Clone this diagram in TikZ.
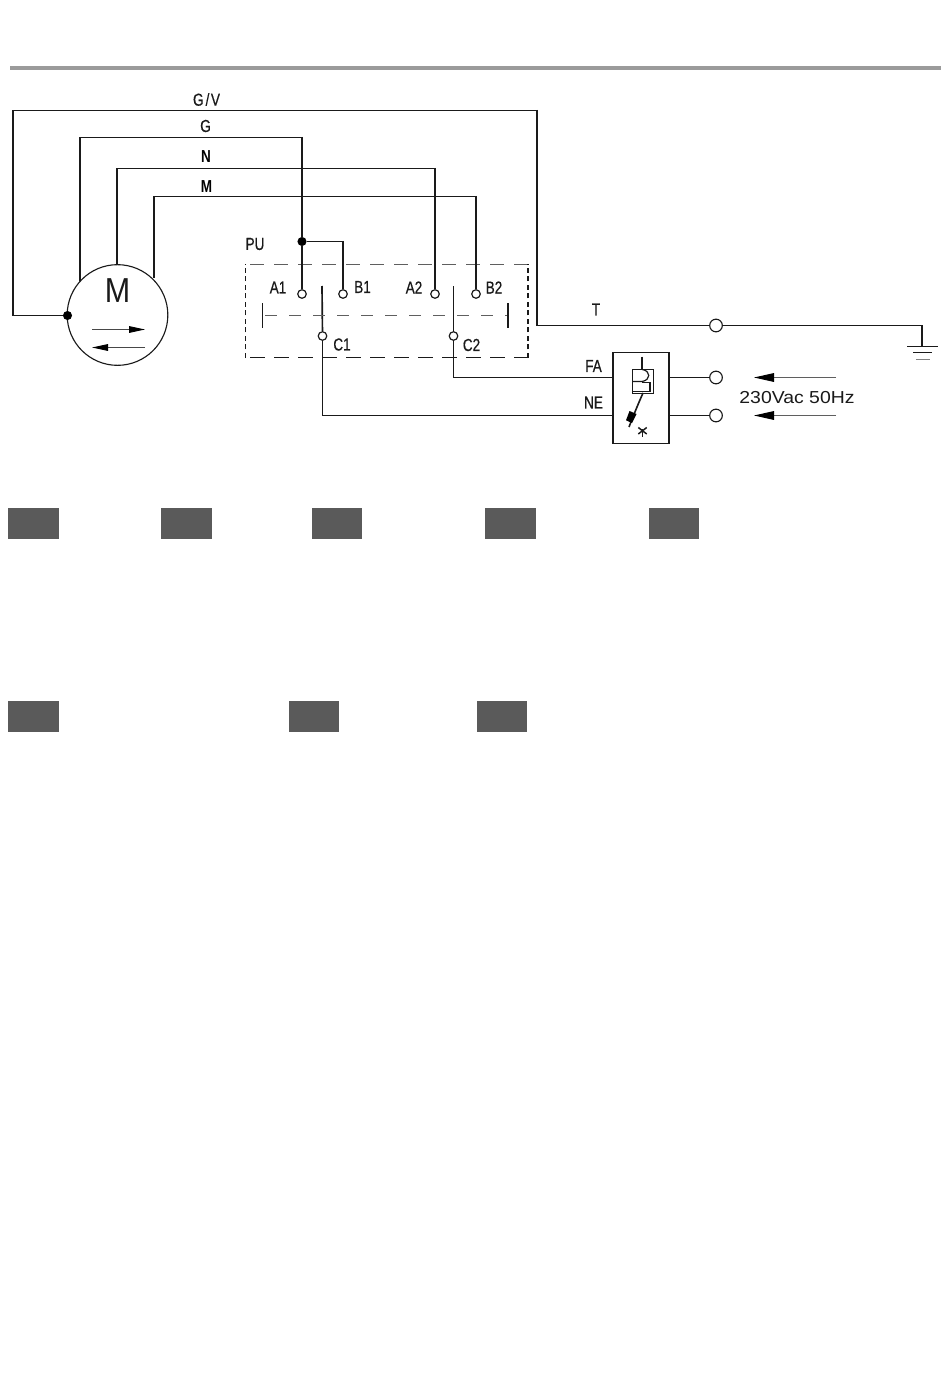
\documentclass[tikz,border=0pt]{standalone}
\usepackage{fontspec}
\setmainfont{Liberation Sans}
\newfontfamily\semif[FakeBold=0.6]{Liberation Sans}
\usetikzlibrary{arrows.meta}
\definecolor{bar}{HTML}{9B9B9B}
\definecolor{tab}{HTML}{5A5A5A}
\definecolor{ink}{HTML}{1A1A1A}
\tikzset{
 wire/.style={draw=ink,line width=0.85pt},
 vwire/.style={draw=ink,line width=1.25pt},
 dashside/.style={draw=ink,line width=1.3pt,dash pattern=on 3.8pt off 2.6pt},
 dashtop/.style={draw=ink!70,line width=1.1pt,dash pattern=on 10.5pt off 7.5pt},
 dashmid/.style={draw=ink!70,line width=1.1pt,dash pattern=on 9pt off 9pt},
 dashbot/.style={draw=ink,line width=0.95pt,dash pattern=on 11pt off 7pt},
 term/.style={circle,draw=ink,fill=white,line width=0.9pt,minimum size=6.4pt,inner sep=0pt},
 bigterm/.style={circle,draw=ink,fill=white,line width=0.85pt,minimum size=9.5pt,inner sep=0pt},
 dot/.style={circle,fill=black,minimum size=6.8pt,inner sep=0pt},
 lab/.style={inner sep=0pt,font=\semif\fontsize{13}{14}\selectfont,text=ink,xscale=0.78},
 blab/.style={inner sep=0pt,font=\bfseries\fontsize{13}{14}\selectfont,text=black,xscale=0.78},
 tabbox/.style={fill=tab,draw=none,minimum height=23.2pt,inner sep=0pt,anchor=north west},
 larrow/.style={draw=ink!80,line width=0.7pt,-{Triangle[length=12pt,width=5pt,fill=black,color=black]}},
 sarrow/.style={draw=ink!70,line width=0.75pt,-{Triangle[length=15pt,width=6.5pt,fill=black,color=black]}},
}
\begin{document}
\begin{tikzpicture}[x=0.75pt,y=-0.75pt]
\useasboundingbox (0,0) rectangle (950,1398);
\fill[white] (0,0) rectangle (950,1398);
\fill[bar] (10,66) rectangle (941,70);
% motor
\node[circle,draw=ink,line width=0.85pt,minimum size=75.5pt,inner sep=0pt] (motor) at (117.5,315) {};
\node[inner sep=0,font=\fontsize{26}{27}\selectfont,text=ink,xscale=0.88] (mlab) at (117.5,291) {M};
\coordinate (mr1) at (92,329.5); \coordinate (mr2) at (145,329.5);
\coordinate (ml1) at (145,347.5); \coordinate (ml2) at (92,347.5);
\draw[larrow] (mr1) -- (mr2);
\draw[larrow] (ml1) -- (ml2);
\node[dot] (pe) at (67.5,315.5) {};
\coordinate (g1) at (80,281); \coordinate (n1) at (117,265); \coordinate (m1) at (154,278);
% terminals
\node[term] (a1) at (302,294) {};
\node[term] (b1) at (343,294) {};
\node[term] (a2) at (435,294) {};
\node[term] (b2) at (476,294) {};
\node[term] (c1) at (322.5,336) {};
\node[term] (c2) at (453.5,336) {};
\node[dot] (j) at (302,241.5) {};
% PU box
\draw[dashtop] (250,264.5) -- (528,264.5);
\draw[dashbot] (250,357.5) -- (528,357.5);
\draw[dashside] (245.5,358) -- (245.5,264);
\draw[dashside] (528,358) -- (528,264);
% wires
\draw[wire] (13,110.5) -- (537,110.5);
\draw[vwire] (13,315.5) -- (13,110);
\draw[vwire] (537,110) -- (537,325.5);
\draw[wire] (pe) -- (13,315.5);
\draw[vwire] (g1) -- (80,137.5);
\draw[wire] (80,137.5) -- (302,137.5);
\draw[vwire] (302,137) -- (j);
\draw[vwire,line width=1.5pt] (j) -- (a1);
\draw[wire] (j) -- (343,241.5);
\draw[vwire] (343,241) -- (b1);
\draw[vwire] (n1) -- (117,168.5);
\draw[wire] (117,168.5) -- (435,168.5);
\draw[vwire] (435,168) -- (a2);
\draw[vwire] (m1) -- (154,196.5);
\draw[wire] (154,196.5) -- (476,196.5);
\draw[vwire] (476,196) -- (b2);
% switch bars
\coordinate (s1t) at (322,286); \coordinate (s2t) at (453.5,286);
\draw[vwire] (s1t) -- (c1);
\draw[vwire] (s2t) -- (c2);
\draw[vwire,line width=1.4pt] (262.5,303) -- (262.5,328);
\draw[vwire,line width=1.4pt] (508,303) -- (508,328);
\draw[dashmid] (265,315.5) -- (507,315.5);
% breaker
\node[draw=ink,line width=1.1pt,minimum width=42pt,minimum height=68pt,inner sep=0pt,anchor=north west] (brk) at (612.3,352) {};
\coordinate (fa) at (612.3,377.5); \coordinate (ne) at (612.3,415.5);
\coordinate (fo) at (668.3,377.5); \coordinate (no) at (668.3,415.5);
\draw[vwire] (c2) -- (453.5,377.5);
\draw[wire] (453,377.5) -- (fa);
\draw[vwire] (c1) -- (322.5,415.5);
\draw[wire] (322,415.5) -- (ne);
\node[bigterm] (t1) at (716,377.5) {};
\node[bigterm] (t2) at (716,415.5) {};
\draw[wire] (fo) -- (t1);
\draw[wire] (no) -- (t2);
% breaker internals
\draw[vwire,line width=1.4pt] (642.3,356.5) -- (642.3,369);
\draw[wire,line width=0.7pt] (632,369.5) rectangle (653,393);
\draw[wire,line width=0.9pt] (632,381.5) -- (642,381.5) .. controls (651,380) and (651,371) .. (642.3,369.5);
\draw[wire,line width=0.9pt] (642,382.5) -- (650,382.5) -- (650,391.5) -- (632,391.5);
\draw[wire,line width=1.2pt] (643,393) .. controls (639,402) and (634,414) .. (629,427);
\fill[black] (629.5,411) -- (636.5,414) -- (632,423) -- (626,420.3) -- cycle;
\draw[wire,line width=1.3pt] (642.5,429) -- (642.5,437);
\draw[wire,line width=1.1pt] (638.3,427.5) -- (646.7,434);
\draw[wire,line width=1.1pt] (646.7,427.5) -- (638.3,434);
% ground
\coordinate (gt) at (922.3,325.5);
\node[bigterm] (tt) at (716,325.5) {};
\draw[wire] (537,325.5) -- (tt);
\draw[wire] (tt) -- (gt);
\draw[vwire] (922.3,325) -- (922.3,346.5);
\draw[wire,line width=0.7pt] (907,346.5) -- (937.5,346.5);
\draw[wire,line width=0.7pt] (913,352.5) -- (932,352.5);
\draw[draw=ink!55,line width=0.8pt] (916,359.5) -- (930,359.5);
% source arrows
\coordinate (sa1) at (836,377.5); \coordinate (sb1) at (754,377.5);
\coordinate (sa2) at (836,415.5); \coordinate (sb2) at (754,415.5);
\draw[sarrow] (sa1) -- (sb1);
\draw[sarrow] (sa2) -- (sb2);
% labels
\node[lab] (lgv) at (206.5,99.5) {G\kern2pt/\kern1.5ptV};
\node[lab] (lg) at (205.5,126) {G};
\node[blab] (ln) at (206,156.5) {N};
\node[blab] (lm) at (206.5,186.5) {M};
\node[lab] (lpu) at (255,244) {PU};
\node[lab] (la1) at (278,287.5) {A1};
\node[lab] (lb1) at (362.5,287) {B1};
\node[lab] (la2) at (414,287.5) {A2};
\node[lab] (lb2) at (494,287.5) {B2};
\node[lab] (lc1) at (342,344.5) {C1};
\node[lab] (lc2) at (471.5,345) {C2};
\node[lab] (lt) at (596,309.5) {T};
\node[lab] (lfa) at (593.5,366) {FA};
\node[lab] (lne) at (593.5,402.5) {NE};
\node[inner sep=0,font=\fontsize{13}{14}\selectfont,text=ink,xscale=1.12] (lv) at (797,398) {230Vac 50Hz};
% tabs
\foreach \n/\x/\y/\w in {p1/8/508/38.2,p2/161/508/38.2,p3/312/508/37.5,p4/485/508/38.2,p5/649/508/37.5,p6/8/701/38.2,p7/289/701/37.5,p8/477/701/37.5}
  \node[tabbox,minimum width=\w pt] (\n) at (\x,\y) {};
\end{tikzpicture}
\end{document}
